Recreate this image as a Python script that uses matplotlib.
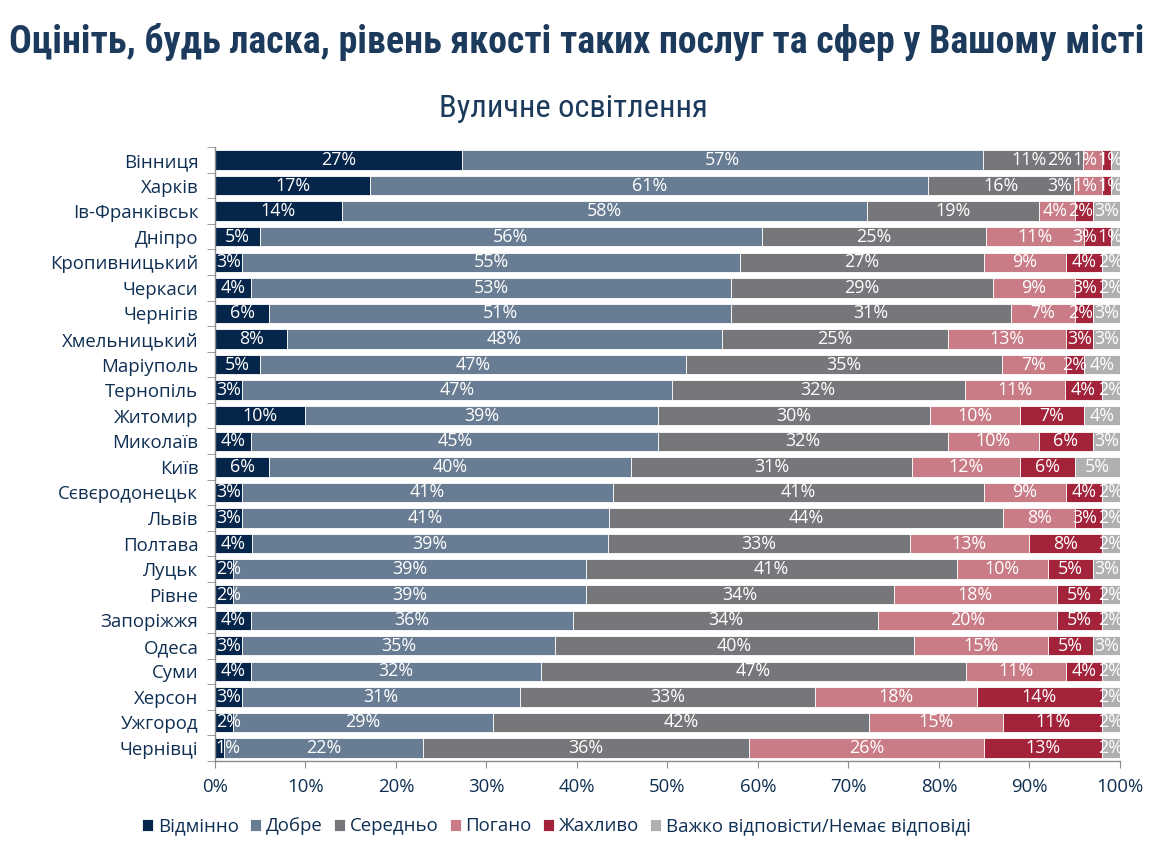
import matplotlib
matplotlib.use("Agg")
import matplotlib.pyplot as plt
import numpy as np
import logging
logging.getLogger("matplotlib.font_manager").setLevel(logging.ERROR)

plt.rcParams['font.family'] = ['Open Sans', 'DejaVu Sans']
head_family = ['Roboto Condensed', 'PT Sans Narrow', 'Liberation Sans Narrow', 'DejaVu Sans']

cities = ["Вінниця", "Харків", "Ів-Франківськ", "Дніпро", "Кропивницький", "Черкаси",
          "Чернігів", "Хмельницький", "Маріуполь", "Тернопіль", "Житомир", "Миколаїв",
          "Київ", "Сєвєродонецьк", "Львів", "Полтава", "Луцьк", "Рівне", "Запоріжжя",
          "Одеса", "Суми", "Херсон", "Ужгород", "Чернівці"]

excellent = [27, 17, 14, 5, 3, 4, 6, 8, 5, 3, 10, 4, 6, 3, 3, 4, 2, 2, 4, 3, 4, 3, 2, 1]
good      = [57, 61, 58, 56, 55, 53, 51, 48, 47, 47, 39, 45, 40, 41, 41, 39, 39, 39, 36, 35, 32, 31, 29, 22]
average   = [11, 16, 19, 25, 27, 29, 31, 25, 35, 32, 30, 32, 31, 41, 44, 33, 41, 34, 34, 40, 47, 33, 42, 36]
bad       = [2, 3, 4, 11, 9, 9, 7, 13, 7, 11, 10, 10, 12, 9, 8, 13, 10, 18, 20, 15, 11, 18, 15, 26]
terrible  = [1, 1, 2, 3, 4, 3, 2, 3, 2, 4, 7, 6, 6, 4, 3, 8, 5, 5, 5, 5, 4, 14, 11, 13]
no_answer = [1, 1, 3, 1, 2, 2, 3, 3, 4, 2, 4, 3, 5, 2, 2, 2, 3, 2, 2, 3, 2, 2, 2, 2]

series_names = ["Відмінно", "Добре", "Середньо", "Погано", "Жахливо",
                "Важко відповісти/Немає відповіді"]
colors = ["#06254A", "#687D93", "#76777A", "#C97C86", "#A2233A", "#B0B0B2"]
x_ticks = [0, 10, 20, 30, 40, 50, 60, 70, 80, 90, 100]

navy = "#0F2F52"
title_col = "#1B3A5C"

data = np.array([excellent, good, average, bad, terrible, no_answer], dtype=float)
totals = data.sum(axis=0)
shares = data / totals * 100

fig = plt.figure(figsize=(11.52, 8.52), dpi=100)
renderer = fig.canvas.get_renderer()


def fit(text_obj, target_px):
    w = text_obj.get_window_extent(renderer).width
    text_obj.set_fontsize(text_obj.get_fontsize() * target_px / w)


probe = fig.text(0, 0, "Ів-Франківськ", fontsize=12)
fit(probe, 124)
body = float(min(max(probe.get_fontsize(), 10.5), 13.5))
probe.remove()
label_size = body - 0.5

ax = fig.add_axes([0.1866, 0.1070, 0.7856, 0.7202])
ax.set_xlim(0, 100)
ax.set_ylim(len(cities) - 0.5, -0.5)

y = np.arange(len(cities))
left = np.zeros(len(cities))
row_texts = [[] for _ in cities]
for i, (name, col) in enumerate(zip(series_names, colors)):
    ax.barh(y, shares[i], left=left, height=0.76, color=col,
            edgecolor="white", linewidth=0.6, label=name)
    for j in range(len(cities)):
        t = ax.text(left[j] + shares[i][j] / 2, y[j], f"{int(data[i][j])}%",
                    ha="center", va="center", color="white", fontsize=label_size)
        row_texts[j].append(t)
    left += shares[i]

# nudge crowded labels so they stay inside the bar and do not pile up
px_per_unit = ax.get_window_extent(renderer).width / 100.0
for texts in row_texts:
    xs = [t.get_position()[0] for t in texts]
    ws = [t.get_window_extent(renderer).width / px_per_unit for t in texts]
    xs[0] = max(xs[0], ws[0] / 2 + 0.1)
    xs[-1] = min(xs[-1], 100 - ws[-1] / 2 + 0.3)
    for k in range(len(texts) - 2, -1, -1):
        gap = (ws[k] + ws[k + 1]) / 2 + 0.05
        if xs[k] > xs[k + 1] - gap:
            xs[k] = xs[k + 1] - gap
    for t, xv in zip(texts, xs):
        t.set_x(xv)

ax.set_yticks(y)
ax.set_yticklabels(cities, fontsize=body, color=navy)
ax.set_yticks(np.arange(len(cities) + 1) - 0.5, minor=True)
ax.tick_params(axis="y", which="major", length=0, pad=12)
ax.tick_params(axis="y", which="minor", length=6, color="#8C8C8C", direction="out")
ax.set_xticks(x_ticks)
ax.set_xticklabels([f"{t}%" for t in x_ticks], fontsize=body, color=navy)
ax.tick_params(axis="x", length=5, color="#8C8C8C", pad=7)
for s in ["top", "right"]:
    ax.spines[s].set_visible(False)
for s in ["left", "bottom"]:
    ax.spines[s].set_color("#8C8C8C")
    ax.spines[s].set_linewidth(1.0)

t1 = fig.text(0.5004, 0.951, "Оцініть, будь ласка, рівень якості таких послуг та сфер у Вашому місті",
              ha="center", va="center", fontsize=24, fontweight="bold", color=title_col,
              family=head_family)
fit(t1, 1137)
t2 = fig.text(0.4978, 0.873, "Вуличне освітлення", ha="center", va="center",
              fontsize=20, color=title_col, family=head_family)
fit(t2, 268)

leg = fig.legend(loc="center", bbox_to_anchor=(0.483, 0.030), ncol=6, frameon=False,
                 fontsize=body, handlelength=0.6, handleheight=0.6, handletextpad=0.25,
                 columnspacing=0.6)
for t in leg.get_texts():
    t.set_color(navy)

fig.savefig("out.png", dpi=100)
